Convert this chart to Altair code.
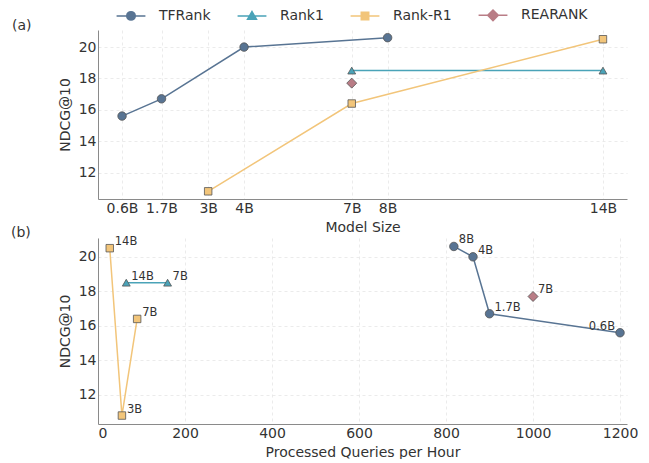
import altair as alt
import pandas as pd

# ---------------- data ----------------
series = ["TFRank", "Rank1", "Rank-R1", "REARANK"]
colors = ["#587493", "#4aa3b8", "#f2c57a", "#b97d86"]
shapes = ["circle", "triangle-up", "square", "diamond"]
marker_sizes = [72, 62, 56, 100]

tfrank_size = [0.6, 1.7, 4, 8]
tfrank_ndcg = [15.6, 16.7, 20.0, 20.6]
tfrank_qph = [1200, 900, 862, 818]

rank1_size = [7, 14]
rank1_ndcg = [18.5, 18.5]
rank1_qph = [160, 65]

rankr1_size = [3, 7, 14]
rankr1_ndcg = [10.8, 16.4, 20.5]
rankr1_qph = [55, 90, 27]

rearank_size = [7]
rearank_ndcg = [17.7]
rearank_qph = [1000]

size_ticks = [0.6, 1.7, 3, 4, 7, 8, 14]
ndcg_ticks = [12, 14, 16, 18, 20]
qph_ticks = [0, 200, 400, 600, 800, 1000, 1200]

size_domain = [-0.07, 14.67]
ndcg_domain = [10.31, 21.09]
qph_domain = [0, 1216]

# legend symbols: line segment + marker (custom paths)
legend_paths = [
    "M-3.4,0H-1M1,0H3.4M-1,0A1,1,0,1,0,1,0A1,1,0,1,0,-1,0Z",
    "M-3.4,0H-0.6M0.6,0H3.4M0,-1.05L1.05,0.75L-1.05,0.75Z",
    "M-3.4,0H-0.88M0.88,0H3.4M-0.88,-0.88H0.88V0.88H-0.88Z",
    "M-3.4,0H-1.25M1.25,0H3.4M0,-1.25L1.25,0L0,1.25L-1.25,0Z",
]

raw = {
    "TFRank": (tfrank_size, tfrank_ndcg, tfrank_qph),
    "Rank1": (rank1_size, rank1_ndcg, rank1_qph),
    "Rank-R1": (rankr1_size, rankr1_ndcg, rankr1_qph),
    "REARANK": (rearank_size, rearank_ndcg, rearank_qph),
}

rows = []
for s in series:
    sz, nd, qp = raw[s]
    for a, b, c in zip(sz, nd, qp):
        rows.append({"series": s, "size": a, "ndcg": b, "qph": c, "label": f"{a:g}B"})
df = pd.DataFrame(rows)

TXT = "#333333"
W = 529

y_axis = alt.Axis(values=ndcg_ticks, title="NDCG@10", titlePadding=6)
y_enc = alt.Y("ndcg:Q", scale=alt.Scale(domain=ndcg_domain, nice=False, zero=False), axis=y_axis)


def series_layers(xfield, xscale, xaxis):
    layers = []
    for s, col, shp, ms in zip(series, colors, shapes, marker_sizes):
        d = df[df["series"] == s]
        x_enc = alt.X(f"{xfield}:Q", scale=xscale, axis=xaxis)
        if len(d) > 1:
            layers.append(
                alt.Chart(d).mark_line(color=col, strokeWidth=1.5).encode(x=x_enc, y=y_enc)
            )
        layers.append(
            alt.Chart(d).mark_point(filled=True, shape=shp, size=ms, fill=col,
                                    stroke="#555555", strokeWidth=0.8, opacity=1)
            .encode(x=x_enc, y=y_enc)
        )
    return layers


# ---------------- panel (a) ----------------
xa_scale = alt.Scale(domain=size_domain, nice=False, zero=False)
xa_axis = alt.Axis(values=size_ticks, labelExpr="datum.value + 'B'", title="Model Size",
                   titlePadding=5)
layers_a = series_layers("size", xa_scale, xa_axis)

legend_df = pd.DataFrame({"series": series})
leg = alt.Legend(orient="none", legendX=26, legendY=-22, direction="horizontal", title=None,
                 labelFontSize=14, labelColor=TXT, symbolSize=72, symbolStrokeWidth=1.5,
                 labelOffset=21, columnPadding=23, padding=0, symbolOpacity=1)
legend_layer = alt.Chart(legend_df).mark_point(filled=True, opacity=0).encode(
    fill=alt.Fill("series:N", scale=alt.Scale(domain=series, range=colors), legend=leg),
    stroke=alt.Stroke("series:N", scale=alt.Scale(domain=series, range=colors), legend=leg),
    shape=alt.Shape("series:N", scale=alt.Scale(domain=series, range=legend_paths), legend=leg),
)

tag_a = alt.Chart(pd.DataFrame({"t": ["(a)"]})).mark_text(
    align="left", baseline="middle", fontSize=14, color=TXT
).encode(x=alt.value(-86), y=alt.value(-4), text="t:N")

panel_a = alt.layer(*layers_a, legend_layer, tag_a).properties(width=W, height=169)

# ---------------- panel (b) ----------------
xb_scale = alt.Scale(domain=qph_domain, nice=False, zero=False)
xb_axis = alt.Axis(values=qph_ticks, format="d", title="Processed Queries per Hour",
                   titlePadding=5)
layers_b = series_layers("qph", xb_scale, xb_axis)

xb_enc = alt.X("qph:Q", scale=xb_scale, axis=xb_axis)
labels_main = alt.Chart(df).transform_filter(alt.datum.label != "0.6B").mark_text(
    align="left", baseline="middle", dx=5, dy=-6, fontSize=11.5, color=TXT
).encode(x=xb_enc, y=y_enc, text="label:N")
labels_left = alt.Chart(df).transform_filter(alt.datum.label == "0.6B").mark_text(
    align="right", baseline="middle", dx=-5, dy=-6, fontSize=11.5, color=TXT
).encode(x=xb_enc, y=y_enc, text="label:N")

tag_b = alt.Chart(pd.DataFrame({"t": ["(b)"]})).mark_text(
    align="left", baseline="middle", fontSize=14, color=TXT
).encode(x=alt.value(-87), y=alt.value(-5), text="t:N")

panel_b = alt.layer(*layers_b, labels_main, labels_left, tag_b).properties(width=W, height=186)

chart = (
    alt.vconcat(panel_a, panel_b, spacing=39, bounds="flush")
    .resolve_scale(x="independent", y="independent", fill="independent",
                   stroke="independent", shape="independent")
    .properties(padding={"left": 3, "top": 0, "right": 0, "bottom": 0})
    .configure(font="DejaVu Sans")
    .configure_view(stroke=None)
    .configure_axis(
        domainColor="#8a8a8a", domainWidth=1,
        grid=True, gridColor="#e6e6e6", gridDash=[3, 3], gridWidth=0.8,
        ticks=False, labelPadding=2,
        labelFontSize=14, labelColor=TXT,
        titleFontSize=14, titleColor=TXT, titleFontWeight="normal",
    )
)

chart.save("out.html", embed_options={"renderer": "svg", "actions": False})
